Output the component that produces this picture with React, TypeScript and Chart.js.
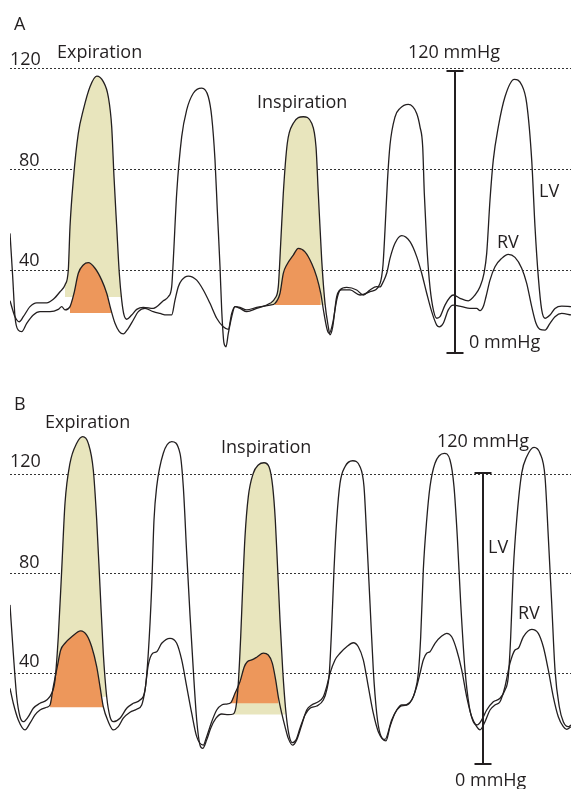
import React, { useEffect, useRef } from "react";
import { Chart, registerables } from "chart.js";

Chart.register(...registerables);

// ---------- Panel A (time in px-like units, pressure in mmHg) ----------
const A_LV_T = [10,15,19.3,23.3,30,36.7,46.7,53.3,60,65,68.3,70,73.3,78.3,83.3,90,96.7,103.3,108.3,111.7,114,116.7,119.3,121.7,124,126.7,131.7,136.7,143.3,153.3,163.3,168.3,171.7,173.3,176.7,181.7,186.7,193.3,201.7,208.3,211.7,215,217.3,220,221.7,224,226,228.3,231.7,235,240,246.7,256.7,270,275,278.3,280.7,283.3,287.3,293.3,303.3,311.7,316,318.3,321.7,325,328.3,330,332.7,336.7,341.7,350,360,370,380,383,385,387.5,390,395,400,408.3,416.7,420,422.7,424.3,426.7,429.3,432.7,436.7,440,445,450,453.3,460,468.3,475,480,484,486.7,490,493.3,498.3,505,514.3,521.7,526.7,531.7,535,538.3,541.7,545,550,555,561.7,571];
const A_LV_P = [27.8,21.5,19.5,21.5,25.5,27.0,27.0,28.4,31.4,34.1,40.0,57.1,75.6,94.1,103.4,112.6,116.8,114.6,108.6,96.7,76.9,57.1,38.7,28.1,22.2,20.5,22.2,24.4,25.2,24.8,27.8,29.4,33.4,44.0,70.4,92.8,103.4,110.0,112.0,108.6,100.7,83.6,63.8,41.3,24.2,11.0,9.6,14.9,21.5,25.5,24.8,23.5,24.8,26.8,28.8,33.4,50.6,70.4,90.2,98.1,100.7,98.1,88.8,70.4,44.0,26.8,17.5,14.3,17.5,29.4,32.1,32.1,30.1,31.4,34.7,42.0,55.8,75.6,89.5,100.6,104.0,105.6,102.0,96.7,88.8,70.4,50.6,36.0,25.5,20.9,21.5,26.1,29.2,30.1,28.8,27.8,30.1,33.4,38.7,46.6,67.7,83.6,96.7,108.6,115.5,113.3,106.0,83.6,57.1,37.3,24.2,20.9,22.2,24.8,25.7,25.5];
const A_RV_T = [10,12.7,15,18.3,21.7,26.7,33.3,40,50,58.3,61.7,65,70,74,78.3,83.3,88.3,95,101.7,106.7,111,115,119.3,123.3,128.3,133.3,138.3,145,153.3,160,166.7,171.7,175,178.3,181.7,188.3,196.7,203.3,210,216.7,223.3,228.3,231.7,235,240,246.7,256.7,270,275,280,283.3,286.7,293.3,298.3,305,311.7,316.7,320.7,324,327.3,329.3,332.7,336.7,340,346.7,356.7,363.3,370,376.7,380,383.3,386.7,390,395,401.7,410,416.7,421.7,426.7,431.7,436.7,439.3,443.3,448.3,453.3,461.7,470,476.7,480,483.3,486,490,495,501.7,508.3,515,521.7,526.7,531.7,536,540,545,550,555,561.7,571];
const A_RV_P = [54.5,37.3,21.5,16.2,15.6,18.9,22.2,23.5,23.5,24.4,25.5,24.2,25.5,30.8,38.7,42.0,42.9,40.7,36.0,30.8,24.2,18.9,15.6,14.7,16.9,20.2,23.5,24.8,23.5,22.8,22.2,22.2,28.1,33.4,36.0,37.6,36.0,32.1,26.8,20.9,17.5,16.5,22.8,25.5,25.2,24.2,25.2,26.1,26.8,30.8,38.7,42.0,45.9,48.6,47.2,42.6,37.3,30.8,22.8,16.2,14.9,18.9,28.1,32.1,33.1,32.1,30.1,32.1,33.4,33.3,35.4,38.7,44.6,50.6,53.6,51.2,45.3,38.7,30.8,23.5,18.2,17.5,18.9,24.2,26.1,25.5,24.8,24.8,23.9,25.5,29.4,36.0,41.3,44.6,46.2,45.0,40.7,34.7,25.5,18.9,16.5,16.2,18.9,21.5,22.8,22.2];
// shaded beats: [from, to] time range and the pressure floor of the shading
const A_LV_SHADES = [[63, 122, 29.3], [270, 325, 26.1]];
const A_RV_SHADES = [[66, 112, 23.0], [273, 321, 26.1]];

// ---------- Panel B ----------
const B_LV_T = [10,13.3,16.7,20,23.3,28.3,33.3,40,46.7,51.7,55,58.3,61.7,65,70,76.7,82.7,88.3,93.3,96.7,100,103.3,106.7,110,113.3,120,126.7,133.3,140,145,148.3,151.7,154,156.7,163.3,171.7,180,183.3,186.7,190,193.3,196.7,200,202.7,206.7,210.7,216,221.7,228.3,233.3,236,238.3,240.7,242.7,245,248.3,253.3,258.3,264,269,272.7,275.3,277.7,280,282.7,285.7,289,292.3,296,300,305,310,316.7,323.3,326.7,329.3,331.7,334,336.7,340,345,352.7,360,364,366.7,370,373.3,376.7,380,385,391.7,396.7,401.7,406.7,411.7,415,418.3,420.7,423.3,426.7,430,435,444.3,450,454,457.3,460.7,465,469.3,473.3,477.3,481.7,486.7,493.3,500,505,508.3,510.7,513.3,516.7,521.7,526.7,534,540,545,548.3,551.7,555,559.3,563.3,568.3,571];
const B_LV_P = [67.5,48.1,30.6,22.6,20.6,22.6,26.0,28.0,29.3,32.0,37.3,54.7,81.5,108.3,124.4,132.4,135.1,132.4,121.7,101.6,74.8,48.1,30.6,22.6,20.6,22.0,26.0,28.0,29.3,33.3,48.1,74.8,101.6,115.0,128.4,133.1,128.4,115.0,88.2,63.5,41.4,21.3,11.2,9.9,13.3,18.0,22.0,23.7,23.4,23.7,26.6,36.0,54.7,74.8,94.9,111.0,120.4,123.7,124.6,123.0,115.0,101.6,81.5,61.4,41.4,25.3,15.3,12.2,13.3,18.0,23.3,26.0,26.9,29.3,33.3,40.0,58.8,81.5,101.6,116.3,123.0,125.4,123.0,115.0,94.9,68.2,41.4,24.0,15.9,13.5,21.3,25.3,27.3,27.3,29.3,32.7,40.0,54.7,81.5,101.6,115.0,124.4,128.4,125.7,115.0,94.9,68.2,41.4,26.6,20.6,19.3,21.3,25.3,28.6,30.0,33.3,38.7,54.7,81.5,101.6,120.4,127.0,130.8,128.4,119.0,94.9,68.2,41.4,26.6,20.6,18.6,19.3];
const B_RV_T = [10,13.3,18.3,25,30,35,40,46.7,50,53.3,57.3,60.7,65,71.7,80.7,86.7,91.7,96.7,100,103.3,108.3,113.3,118.3,123.3,130,136.7,141.7,145,148.3,152.7,156.7,161.7,170,176.7,181.7,186.7,191.7,196.7,203.3,206.7,211.7,216.7,221.7,226.7,230.7,235,240,244.3,247.3,251.7,256.7,263.3,268.3,272.3,275.7,278.3,281.7,285,288.3,292.7,296.7,301.7,306.7,311.7,318.3,323.3,326.7,330,335,340,346.7,353.3,358.3,363.3,368.3,373.3,378.3,386,390,395,400,406,411.7,416.7,420,423.3,426.7,430,435,441.7,446.7,451.7,456.7,461.7,466.7,471.7,476.7,480,485,490,495,500,505,510,515,518.3,523.3,531.7,538.3,543.3,548.3,553.3,558.3,563.3,566.7,571];
const B_RV_P = [34.0,28.0,21.3,17.3,20.0,23.3,25.3,26.4,27.3,34.7,42.7,49.4,52.1,54.7,57.1,55.4,50.7,42.7,34.7,26.6,20.6,17.3,18.6,22.0,24.4,25.6,27.3,33.3,43.4,48.1,48.7,52.1,54.1,52.1,45.4,34.7,24.0,14.6,11.2,14.6,20.6,25.3,27.3,27.7,28.2,32.0,36.7,42.7,44.7,45.4,46.5,48.1,47.4,44.1,37.3,30.6,24.0,18.6,13.9,11.2,13.3,19.3,25.3,27.3,28.6,30.6,34.7,40.0,45.4,48.1,50.7,52.3,50.7,45.4,34.7,24.0,16.6,12.9,18.6,24.0,26.6,27.3,29.3,34.7,40.0,45.4,48.1,48.7,52.1,55.0,56.1,54.7,49.4,41.4,30.6,22.6,18.6,17.3,20.6,25.3,27.3,28.6,34.7,44.1,49.4,50.1,54.7,57.7,56.1,50.7,41.4,30.6,22.6,18.6,17.5,18.6];
const B_LV_SHADES = [[51, 107, 30.6], [233, 287, 23.5]];
const B_RV_SHADES = [[50, 104, 26.4], [230, 280, 28.0]];

// reference pressures (dashed lines)
const GRID_VALUES = [40, 80, 120];

// ---------- styling ----------
const FONT = '"Open Sans", "DejaVu Sans", sans-serif';
const INK = "#231f20";
const OLIVE = "#e8e5bd";
const ORANGE = "#ed975b";

type Label = { text: string; x: number; y: number };
type PanelCfg = {
  lvT: number[]; lvP: number[]; rvT: number[]; rvP: number[];
  lvShades: number[][]; rvShades: number[][];
  yMin: number; yMax: number; top: number; height: number;
  labels: Label[];
  bar: { x: number; top: number; bottom: number };
};

const pts = (t: number[], p: number[]) =>
  t.slice(0, Math.min(t.length, p.length)).map((x, i) => ({ x, y: p[i] }));

const PANEL_A: PanelCfg = {
  lvT: A_LV_T, lvP: A_LV_P, rvT: A_RV_T, rvP: A_RV_P,
  lvShades: A_LV_SHADES, rvShades: A_RV_SHADES,
  yMin: -3.56, yMax: 146.93, top: 0, height: 380,
  labels: [
    { text: "A", x: 14, y: 30 },
    { text: "120", x: 10, y: 65 },
    { text: "Expiration", x: 57, y: 58 },
    { text: "120 mmHg", x: 408, y: 58 },
    { text: "Inspiration", x: 257, y: 108 },
    { text: "80", x: 19, y: 166 },
    { text: "40", x: 19, y: 266 },
    { text: "LV", x: 539, y: 197 },
    { text: "RV", x: 497, y: 248 },
    { text: "0 mmHg", x: 469, y: 348 },
  ],
  bar: { x: 455, top: 71, bottom: 353 },
};

const PANEL_B: PanelCfg = {
  lvT: B_LV_T, lvP: B_LV_P, rvT: B_RV_T, rvP: B_RV_P,
  lvShades: B_LV_SHADES, rvShades: B_RV_SHADES,
  yMin: -6.43, yMax: 157.83, top: 380, height: 409,
  labels: [
    { text: "B", x: 14, y: 30 },
    { text: "Expiration", x: 45, y: 48 },
    { text: "120", x: 10, y: 87 },
    { text: "Inspiration", x: 221, y: 73 },
    { text: "120 mmHg", x: 437, y: 67 },
    { text: "80", x: 19, y: 188 },
    { text: "40", x: 19, y: 287 },
    { text: "LV", x: 488, y: 173 },
    { text: "RV", x: 518, y: 239 },
    { text: "0 mmHg", x: 455, y: 406 },
  ],
  bar: { x: 483, top: 93, bottom: 384 },
};

function Panel({ cfg }: { cfg: PanelCfg }) {
  const ref = useRef<HTMLCanvasElement | null>(null);

  useEffect(() => {
    if (!ref.current) return;
    const lv = pts(cfg.lvT, cfg.lvP);
    const rv = pts(cfg.rvT, cfg.rvP);

    const shade = (series: { x: number; y: number }[], s: number[], color: string, order: number) => ({
      data: series.filter((d) => d.x >= s[0] && d.x <= s[1]),
      borderColor: "rgba(0,0,0,0)",
      borderWidth: 0,
      backgroundColor: color,
      fill: { value: s[2] },
      pointRadius: 0,
      cubicInterpolationMode: "monotone" as const,
      order,
    });

    const decor = {
      id: "decor",
      afterDraw(chart: any) {
        const ctx = chart.ctx as CanvasRenderingContext2D;
        ctx.save();
        ctx.fillStyle = INK;
        ctx.font = `18px ${FONT}`;
        ctx.textBaseline = "alphabetic";
        ctx.textAlign = "left";
        for (const l of cfg.labels) ctx.fillText(l.text, l.x, l.y);
        const b = cfg.bar;
        ctx.strokeStyle = INK;
        ctx.lineWidth = 2;
        ctx.beginPath();
        ctx.moveTo(b.x, b.top);
        ctx.lineTo(b.x, b.bottom);
        ctx.moveTo(b.x - 8.5, b.top);
        ctx.lineTo(b.x + 8.5, b.top);
        ctx.moveTo(b.x - 8.5, b.bottom);
        ctx.lineTo(b.x + 8.5, b.bottom);
        ctx.stroke();
        ctx.restore();
      },
    };

    const chart = new Chart(ref.current, {
      type: "line",
      data: {
        datasets: [
          ...cfg.lvShades.map((s) => shade(lv, s, OLIVE, 4)),
          ...cfg.rvShades.map((s) => shade(rv, s, ORANGE, 3)),
          {
            label: "LV",
            data: lv,
            borderColor: INK,
            borderWidth: 1.3,
            pointRadius: 0,
            fill: false,
            cubicInterpolationMode: "monotone",
            order: 1,
          },
          {
            label: "RV",
            data: rv,
            borderColor: INK,
            borderWidth: 1.3,
            pointRadius: 0,
            fill: false,
            cubicInterpolationMode: "monotone",
            order: 1,
          },
        ] as any,
      },
      options: {
        animation: false,
        responsive: false,
        maintainAspectRatio: false,
        layout: { padding: { left: 10, right: 0, top: 0, bottom: 0 } },
        plugins: { legend: { display: false }, tooltip: { enabled: false } },
        scales: {
          x: { type: "linear", display: false, min: 10, max: 571 },
          y: {
            type: "linear",
            min: cfg.yMin,
            max: cfg.yMax,
            afterBuildTicks: (scale: any) => {
              scale.ticks = GRID_VALUES.map((v) => ({ value: v }));
            },
            afterFit: (scale: any) => {
              scale.width = 0;
            },
            ticks: { display: false },
            grid: { color: "#333333", lineWidth: 1, drawTicks: false },
            border: { display: false, dash: [2, 2] },
          },
        },
      } as any,
      plugins: [decor],
    });
    return () => chart.destroy();
  }, [cfg]);

  return (
    <canvas
      ref={ref}
      width={571}
      height={cfg.height}
      style={{ position: "absolute", left: 0, top: cfg.top, width: 571, height: cfg.height }}
    />
  );
}

export default function App() {
  return (
    <div style={{ position: "absolute", left: 0, top: 0, width: 571, height: 789, background: "#fff" }}>
      <Panel cfg={PANEL_A} />
      <Panel cfg={PANEL_B} />
    </div>
  );
}
